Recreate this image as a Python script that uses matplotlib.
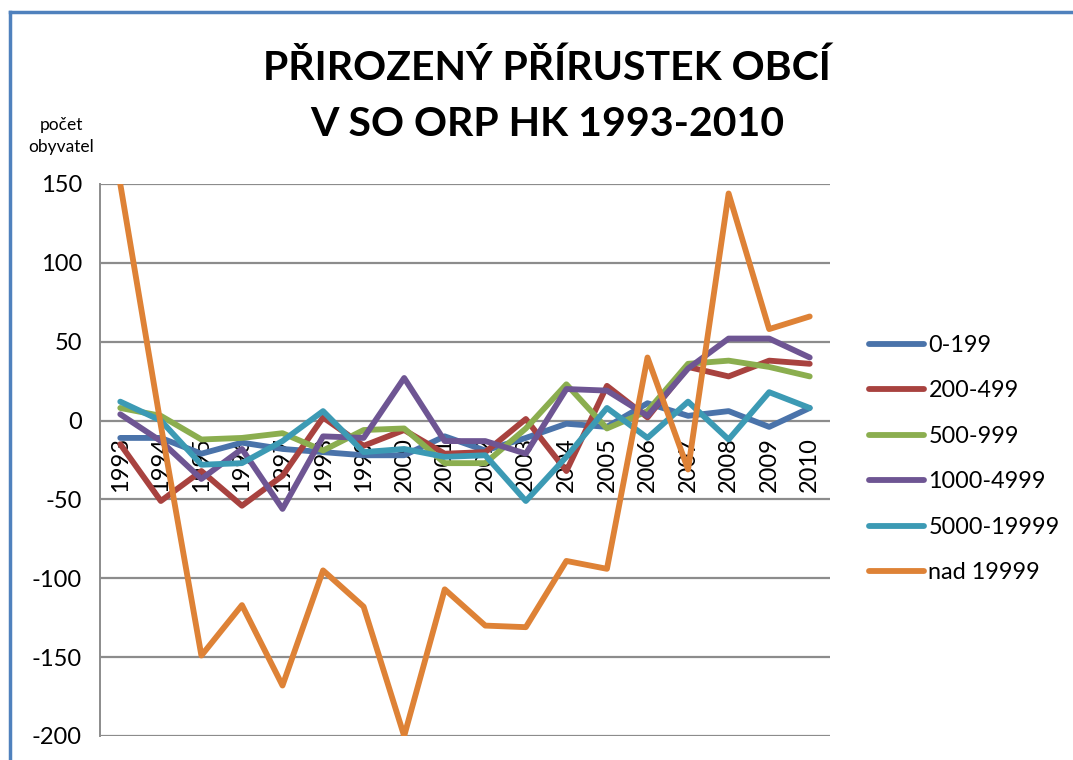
import matplotlib
matplotlib.use("Agg")
import matplotlib.pyplot as plt
from matplotlib.lines import Line2D

years = [str(y) for y in range(1993, 2011)]
s_0_199 = [-11, -11, -21, -14, -18, -20, -22, -22, -10, -19, -11, -2, -4, 11, 3, 6, -4, 8]
s_200_499 = [-15, -51, -32, -54, -35, 2, -16, -6, -21, -20, 1, -32, 22, 2, 34, 28, 38, 36]
s_500_999 = [8, 3, -12, -11, -8, -19, -6, -5, -27, -27, -5, 23, -5, 6, 36, 38, 34, 28]
s_1000_4999 = [4, -13, -37, -18, -56, -10, -11, 27, -13, -13, -21, 20, 19, 3, 33, 52, 52, 40]
s_5000_19999 = [12, 0, -28, -27, -13, 6, -20, -18, -23, -22, -51, -23, 8, -11, 12, -12, 18, 8]
s_nad_19999 = [150, -3, -149, -117, -168, -95, -118, -200, -107, -130, -131, -89, -94, 40, -31, 144, 58, 66]

labels = ["0-199", "200-499", "500-999", "1000-4999", "5000-19999", "nad 19999"]
series = [s_0_199, s_200_499, s_500_999, s_1000_4999, s_5000_19999, s_nad_19999]
colors = ["#4A73AA", "#A8423F", "#8BAE4F", "#6E5593", "#3C9AB4", "#DE8236"]

plt.rcParams['font.family'] = ['Lato', 'DejaVu Sans']
plt.rcParams['axes.unicode_minus'] = False

fig = plt.figure(figsize=(10.73, 7.60), dpi=100)
ax = fig.add_axes([100/1073, 1-736/760, (830-100)/1073, (736-184)/760])

x = list(range(len(years)))
for vals, lab, col in zip(series, labels, colors):
    ax.plot(x, vals, color=col, lw=4.2, label=lab, solid_capstyle='round',
            solid_joinstyle='round', zorder=3)

ax.set_xlim(-0.5, len(years) - 0.5)
ax.set_ylim(-200, 150)
ax.set_yticks([150, 100, 50, 0, -50, -100, -150, -200])
ax.yaxis.grid(True, color='#8C8C8C', lw=1.6)
ax.set_axisbelow(True)

ax.spines['top'].set_visible(False)
ax.spines['right'].set_visible(False)
ax.spines['left'].set_color('#8C8C8C')
ax.spines['left'].set_linewidth(1.4)
ax.spines['bottom'].set_position(('data', 0))
ax.spines['bottom'].set_visible(False)

ax.set_xticks(x)
ax.set_xticklabels(years, rotation=90, va='top', ha='center')
ax.tick_params(axis='x', length=0, pad=12, labelsize=17)
ax.tick_params(axis='y', length=0, pad=13, labelsize=17)
for t in ax.get_xticklabels():
    t.set_zorder(1)

title_font = dict(fontsize=29.5, fontweight='bold', family=['Lato', 'DejaVu Sans'])
fig.text(547/1073, 1-68/760, "PŘIROZENÝ PŘÍRUSTEK OBCÍ", ha='center', va='center', **title_font)
fig.text(547/1073, 1-124/760, "V SO ORP HK 1993-2010", ha='center', va='center', **title_font)
fig.text(61/1073, 1-136/760, "počet\nobyvatel", ha='center', va='center',
         fontsize=12.5, linespacing=1.45)

leg = fig.legend(loc='center left', bbox_to_anchor=(869/1073, 1-459/760),
                 frameon=False, fontsize=16.8, handlelength=2.35, handletextpad=0.2,
                 labelspacing=1.05, borderpad=0, borderaxespad=0)

# chart area frame (left and top edges visible)
fig.add_artist(Line2D([10/1073, 10/1073], [0, 1-12/760], color='#4F81BD', lw=2.5,
                      transform=fig.transFigure))
fig.add_artist(Line2D([10/1073, 1], [1-12/760, 1-12/760], color='#4F81BD', lw=2.5,
                      transform=fig.transFigure))

fig.savefig("out.png", dpi=100)
